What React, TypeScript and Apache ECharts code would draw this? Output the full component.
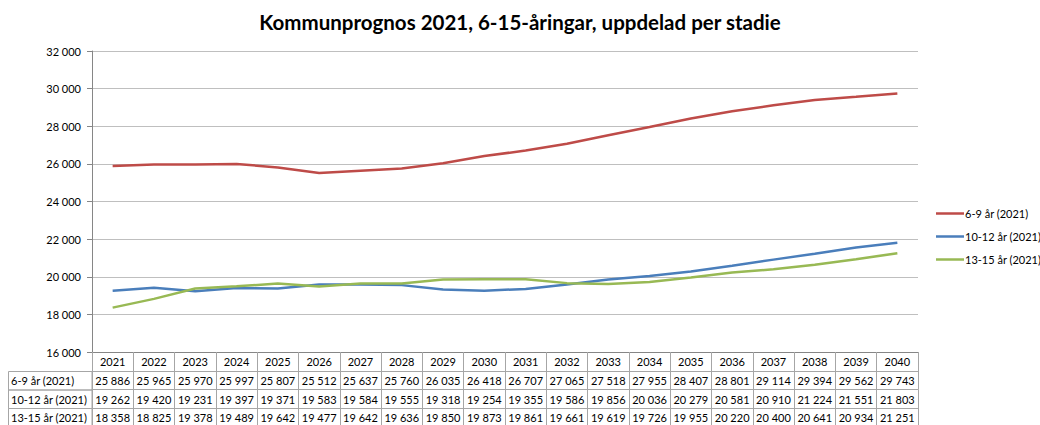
import React, { useEffect, useRef } from "react";
import * as echarts from "echarts";

const years = ["2021","2022","2023","2024","2025","2026","2027","2028","2029","2030","2031","2032","2033","2034","2035","2036","2037","2038","2039","2040"];
const seriesNames = ["6-9 år (2021)", "10-12 år (2021)", "13-15 år (2021)"];
const s69 = [25886,25965,25970,25997,25807,25512,25637,25760,26035,26418,26707,27065,27518,27955,28407,28801,29114,29394,29562,29743];
const s1012 = [19262,19420,19231,19397,19371,19583,19584,19555,19318,19254,19355,19586,19856,20036,20279,20581,20910,21224,21551,21803];
const s1315 = [18358,18825,19378,19489,19642,19477,19642,19636,19850,19873,19861,19661,19619,19726,19955,20220,20400,20641,20934,21251];
const seriesValues = [s69, s1012, s1315];
const colors = ["#BE4B48", "#4A7EBB", "#98B954"];

const FONT = "Lato";
const fmt = (v: number) => {
  const s = String(Math.round(v));
  return s.replace(/\B(?=(\d{3})+(?!\d))/g, " ");
};

export default function App() {
  const ref = useRef<HTMLDivElement>(null);
  useEffect(() => {
    document.body.style.margin = "0";
    if (!ref.current) return;
    const chart = echarts.init(ref.current, undefined, { renderer: "svg" });
    const gridLeft = 92, gridRight = 918, gridTop = 51, gridBottom = 352;
    const rowH = 18.5;
    const border = "#A6A6A6";
    const rowAxes = [0, 1, 2, 3].map((r) => ({
      type: "category" as const,
      gridIndex: 0,
      position: "bottom" as const,
      offset: r === 0 ? 0 : 19 + (r - 1) * rowH,
      data: years,
      boundaryGap: true,
      axisLine: { show: true, lineStyle: { color: r === 0 ? "#868686" : border, width: 1 } },
      axisTick: { show: true, interval: 0, length: r === 0 ? 19 : rowH, lineStyle: { color: border } },
      splitLine: { show: false },
      axisLabel: {
        interval: 0,
        margin: 4,
        fontFamily: FONT,
        fontSize: 11,
        color: "#000",
        formatter: r === 0 ? undefined : (_v: string, i: number) => fmt(seriesValues[r - 1][i]),
      },
    }));
    const graphics: any[] = [];
    for (let r = 0; r < 3; r++) {
      const y = gridBottom + 19 + r * rowH;
      graphics.push({
        type: "rect",
        shape: { x: 8.5, y: y + 0.5, width: gridLeft - 8.5, height: rowH },
        style: { fill: "none", stroke: border, lineWidth: 1 },
        silent: true,
      });
      graphics.push({
        type: "text",
        x: 11,
        y: y + rowH / 2 + 0.5,
        style: { text: seriesNames[r], fontFamily: FONT, fontSize: 11, fill: "#000", verticalAlign: "middle", align: "left" },
        silent: true,
      });
    }
    chart.setOption({
      animation: false,
      backgroundColor: "#fff",
      title: {
        text: "Kommunprognos 2021, 6-15-åringar, uppdelad per stadie",
        left: "center",
        top: 6,
        textStyle: { fontFamily: FONT, fontSize: 20.5, fontWeight: "bold", color: "#000" },
      },
      legend: {
        orient: "vertical",
        left: 931,
        top: 203,
        itemWidth: 28,
        itemHeight: 14,
        itemGap: 12,
        icon: "path://M0,6 L28,6 L28,8.5 L0,8.5 Z",
        data: seriesNames,
        textStyle: { fontFamily: FONT, fontSize: 11, color: "#000", padding: [0, 0, 0, -4] },
      },
      grid: { left: gridLeft, right: 1040 - gridRight, top: gridTop, bottom: 425 - gridBottom, containLabel: false },
      xAxis: rowAxes,
      yAxis: {
        type: "value",
        min: 16000,
        max: 32000,
        interval: 2000,
        axisLine: { show: true, lineStyle: { color: "#868686" } },
        axisTick: { show: true, length: 5, lineStyle: { color: "#868686" } },
        splitLine: { show: true, lineStyle: { color: "#BFBFBF" } },
        axisLabel: { formatter: (v: number) => fmt(v), fontFamily: FONT, fontSize: 11, color: "#000", margin: 11 },
      },
      series: seriesValues.map((vals, i) => ({
        name: seriesNames[i],
        type: "line",
        data: vals,
        xAxisIndex: 0,
        symbol: "none",
        smooth: false,
        lineStyle: { color: colors[i], width: 2.5 },
        itemStyle: { color: colors[i] },
      })),
      graphic: graphics,
    });
    return () => chart.dispose();
  }, []);
  return <div ref={ref} style={{ width: 1040, height: 425 }} />;
}
